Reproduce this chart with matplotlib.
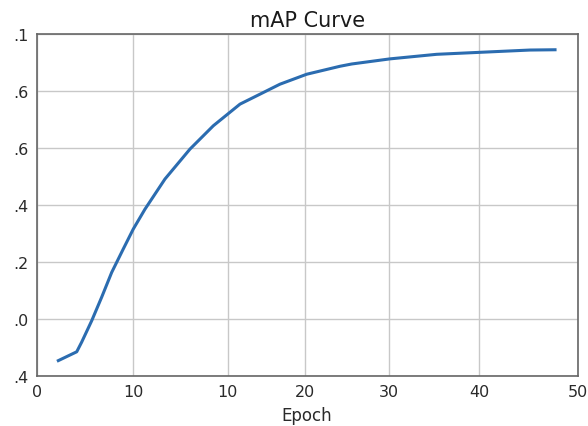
import matplotlib
matplotlib.use("Agg")
import matplotlib.pyplot as plt

# curve (x on the axis scale, y on the axis scale)
epochs = [2.40, 4.44, 4.99, 6.10, 7.21, 8.32, 9.60, 10.71, 12.01, 14.23,
          17.00, 19.59, 22.55, 24.77, 26.98, 29.95, 33.64, 34.94, 39.19,
          44.36, 49.17, 54.71, 57.49]
map_vals = [0.053, 0.084, 0.118, 0.193, 0.276, 0.363, 0.445, 0.515, 0.585,
            0.691, 0.796, 0.878, 0.954, 0.989, 1.024, 1.059, 1.087, 1.095,
            1.113, 1.129, 1.136, 1.144, 1.145]

# tick positions / labels as they appear
x_ticks = [0, 10.71, 21.18, 29.79, 39.11, 49.09, 60]
x_labels = ["0", "10", "10", "20", "30", "40", "50"]
y_ticks = [0, 0.2, 0.4, 0.6, 0.8, 1.0, 1.2]
y_labels = [".4", ".0", ".2", ".4", ".6", ".6", ".1"]

fig = plt.figure(figsize=(5.88, 4.27), dpi=100)
ax = fig.add_axes([0.0624, 0.1178, 0.920, 0.800])

ax.plot(epochs, map_vals, color="#2b6cb0", lw=2.2)

ax.set_xlim(0, 60)
ax.set_ylim(0, 1.2)
ax.set_xticks(x_ticks)
ax.set_xticklabels(x_labels)
ax.set_yticks(y_ticks)
ax.set_yticklabels(y_labels)
ax.tick_params(length=0, labelsize=11.5, pad=6, colors="#2a2a2a")
ax.grid(True, color="#c8c8c8", lw=1)
for s in ax.spines.values():
    s.set_color("#666666")
    s.set_linewidth(1.2)

ax.set_xlabel("Epoch", fontsize=12, color="#2a2a2a", labelpad=5)
ax.set_title("mAP Curve", fontsize=15, color="#1a1a1a", pad=6)

fig.savefig("out.png", dpi=100)
